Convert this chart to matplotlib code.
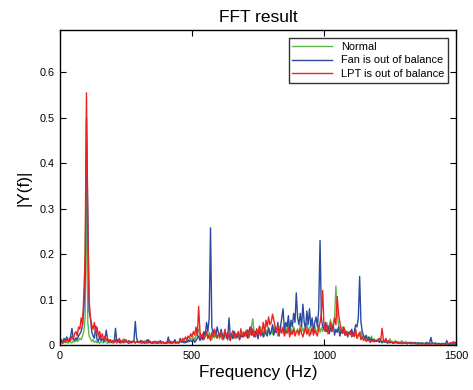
import numpy as np
import matplotlib
matplotlib.use('Agg')
import matplotlib.pyplot as plt

plt.rcParams['font.family'] = ['Liberation Sans', 'DejaVu Sans']

# ── DATA (|Y(f)|, 5 Hz step, 0..1500 Hz) ─────────────────────────────────────
freq = np.arange(0, 1501, 5)

normal = [
    0.003,0.006,0.004,0.008,0.005,0.007,0.004,0.010,0.006,0.005,0.009,0.007,0.012,0.008,0.010,0.015,0.012,0.020,0.030,0.060,
    0.380,0.050,0.020,0.015,0.008,0.012,0.006,0.009,0.005,0.007,0.004,0.008,0.006,0.005,0.010,0.006,0.004,0.007,0.005,0.006,
    0.004,0.006,0.009,0.005,0.012,0.007,0.004,0.006,0.014,0.005,0.008,0.006,0.004,0.007,0.005,0.009,0.006,0.004,0.008,0.006,
    0.005,0.007,0.004,0.006,0.010,0.005,0.004,0.008,0.006,0.005,0.007,0.004,0.006,0.005,0.009,0.004,0.006,0.005,0.007,0.004,
    0.006,0.005,0.008,0.004,0.007,0.005,0.006,0.009,0.004,0.006,0.005,0.007,0.010,0.006,0.008,0.005,0.012,0.007,0.009,0.015,
    0.012,0.018,0.010,0.020,0.030,0.035,0.015,0.022,0.012,0.025,0.018,0.030,0.014,0.028,0.020,0.012,0.024,0.016,0.030,0.018,
    0.022,0.014,0.026,0.018,0.012,0.030,0.020,0.015,0.025,0.010,0.022,0.018,0.028,0.014,0.020,0.026,0.012,0.024,0.018,0.030,
    0.020,0.026,0.016,0.032,0.024,0.040,0.058,0.030,0.022,0.035,0.018,0.028,0.040,0.024,0.030,0.020,0.034,0.026,0.038,0.022,
    0.030,0.024,0.042,0.028,0.036,0.020,0.032,0.044,0.026,0.034,0.022,0.038,0.030,0.046,0.026,0.036,0.024,0.040,0.030,0.028,
    0.036,0.024,0.044,0.030,0.038,0.026,0.034,0.048,0.028,0.040,0.024,0.036,0.030,0.042,0.026,0.034,0.044,0.028,0.038,0.030,
    0.040,0.030,0.050,0.034,0.044,0.056,0.036,0.048,0.060,0.130,0.070,0.044,0.036,0.030,0.040,0.026,0.034,0.022,0.030,0.024,
    0.032,0.020,0.028,0.018,0.026,0.016,0.024,0.020,0.030,0.014,0.022,0.012,0.018,0.010,0.016,0.012,0.020,0.010,0.014,0.008,
    0.012,0.008,0.014,0.010,0.006,0.012,0.008,0.010,0.006,0.009,0.014,0.006,0.008,0.005,0.010,0.006,0.008,0.005,0.007,0.010,
    0.006,0.005,0.008,0.004,0.006,0.005,0.007,0.004,0.006,0.003,0.005,0.004,0.006,0.003,0.005,0.004,0.003,0.005,0.004,0.003,
    0.004,0.003,0.005,0.003,0.004,0.003,0.002,0.004,0.003,0.002,0.003,0.004,0.002,0.003,0.002,0.003,0.002,0.003,0.002,0.003,
    0.002,
]

fan = [
    0.008,0.012,0.006,0.015,0.010,0.018,0.012,0.008,0.020,0.037,0.014,0.010,0.016,0.012,0.020,0.025,0.030,0.045,0.080,0.150,
    0.500,0.300,0.075,0.060,0.030,0.020,0.015,0.042,0.012,0.008,0.020,0.010,0.014,0.008,0.012,0.033,0.010,0.006,0.012,0.008,
    0.010,0.006,0.037,0.008,0.012,0.005,0.010,0.007,0.006,0.012,0.008,0.006,0.010,0.005,0.008,0.006,0.012,0.052,0.015,0.008,
    0.006,0.010,0.005,0.008,0.004,0.007,0.012,0.005,0.009,0.006,0.004,0.008,0.005,0.007,0.004,0.006,0.010,0.005,0.007,0.004,
    0.006,0.004,0.018,0.005,0.008,0.004,0.006,0.012,0.005,0.007,0.004,0.015,0.006,0.009,0.005,0.008,0.006,0.012,0.008,0.010,
    0.008,0.012,0.006,0.010,0.015,0.020,0.010,0.018,0.012,0.030,0.020,0.050,0.030,0.060,0.258,0.040,0.025,0.035,0.020,0.040,
    0.028,0.018,0.035,0.022,0.015,0.030,0.020,0.012,0.060,0.018,0.025,0.014,0.030,0.020,0.016,0.028,0.012,0.022,0.018,0.026,
    0.020,0.032,0.016,0.028,0.040,0.022,0.035,0.018,0.030,0.024,0.014,0.036,0.022,0.028,0.018,0.032,0.026,0.020,0.038,0.024,
    0.030,0.045,0.022,0.036,0.028,0.050,0.020,0.040,0.060,0.080,0.030,0.050,0.040,0.065,0.030,0.055,0.040,0.070,0.050,0.115,
    0.060,0.045,0.070,0.040,0.090,0.050,0.035,0.075,0.045,0.080,0.040,0.060,0.030,0.050,0.062,0.040,0.080,0.230,0.060,0.040,
    0.035,0.050,0.030,0.042,0.025,0.038,0.030,0.045,0.022,0.035,0.028,0.040,0.020,0.032,0.026,0.038,0.022,0.030,0.018,0.028,
    0.024,0.035,0.020,0.030,0.045,0.040,0.060,0.151,0.050,0.030,0.020,0.015,0.022,0.012,0.018,0.010,0.014,0.008,0.012,0.010,
    0.008,0.012,0.006,0.010,0.005,0.008,0.006,0.009,0.004,0.007,0.005,0.008,0.004,0.006,0.005,0.007,0.004,0.006,0.005,0.004,
    0.006,0.004,0.005,0.003,0.006,0.004,0.005,0.003,0.004,0.006,0.003,0.005,0.004,0.003,0.005,0.004,0.003,0.004,0.006,0.003,
    0.005,0.017,0.004,0.003,0.005,0.004,0.003,0.004,0.003,0.002,0.004,0.003,0.002,0.010,0.003,0.002,0.003,0.002,0.003,0.002,
    0.003,
]

lpt = [
    0.005,0.008,0.004,0.010,0.006,0.012,0.008,0.015,0.010,0.020,0.012,0.025,0.030,0.020,0.040,0.035,0.060,0.045,0.110,0.200,
    0.555,0.250,0.100,0.060,0.045,0.035,0.050,0.025,0.040,0.020,0.030,0.015,0.025,0.012,0.020,0.010,0.015,0.008,0.012,0.006,
    0.010,0.006,0.012,0.005,0.008,0.015,0.006,0.010,0.005,0.008,0.012,0.006,0.004,0.009,0.005,0.007,0.010,0.005,0.008,0.006,
    0.008,0.005,0.010,0.006,0.004,0.008,0.005,0.012,0.006,0.004,0.007,0.005,0.009,0.004,0.006,0.008,0.005,0.004,0.007,0.005,
    0.004,0.007,0.005,0.010,0.004,0.006,0.008,0.005,0.004,0.006,0.005,0.012,0.008,0.015,0.010,0.018,0.012,0.020,0.015,0.025,
    0.018,0.030,0.022,0.040,0.020,0.085,0.030,0.015,0.025,0.012,0.020,0.030,0.015,0.022,0.010,0.028,0.018,0.035,0.020,0.015,
    0.025,0.018,0.030,0.012,0.022,0.035,0.015,0.028,0.020,0.010,0.024,0.032,0.016,0.026,0.020,0.030,0.014,0.036,0.022,0.018,
    0.028,0.020,0.034,0.016,0.026,0.040,0.022,0.030,0.018,0.036,0.024,0.042,0.020,0.030,0.050,0.026,0.055,0.040,0.062,0.045,
    0.050,0.068,0.055,0.040,0.030,0.045,0.022,0.035,0.028,0.040,0.020,0.032,0.026,0.038,0.018,0.030,0.024,0.036,0.020,0.028,
    0.032,0.022,0.036,0.026,0.018,0.030,0.040,0.024,0.034,0.020,0.028,0.038,0.022,0.032,0.026,0.020,0.036,0.050,0.070,0.120,
    0.040,0.030,0.045,0.025,0.036,0.050,0.030,0.040,0.060,0.045,0.107,0.070,0.050,0.035,0.028,0.040,0.022,0.030,0.020,0.026,
    0.030,0.018,0.025,0.020,0.035,0.015,0.022,0.028,0.012,0.018,0.010,0.015,0.008,0.012,0.010,0.006,0.009,0.012,0.007,0.010,
    0.008,0.012,0.015,0.010,0.037,0.012,0.008,0.015,0.006,0.010,0.005,0.008,0.006,0.004,0.007,0.005,0.006,0.004,0.005,0.003,
    0.005,0.004,0.006,0.003,0.005,0.004,0.003,0.005,0.004,0.003,0.004,0.002,0.003,0.004,0.002,0.003,0.004,0.002,0.003,0.002,
    0.003,0.002,0.003,0.004,0.002,0.003,0.002,0.003,0.002,0.004,0.003,0.002,0.003,0.002,0.004,0.003,0.006,0.004,0.008,0.005,
    0.006,
]

series_names = ['Normal', 'Fan is out of balance', 'LPT is out of balance']
x_ticks = [0, 500, 1000, 1500]
y_ticks = [0, 0.1, 0.2, 0.3, 0.4, 0.5, 0.6]

# ── FIGURE ───────────────────────────────────────────────────────────────────
fig = plt.figure(figsize=(4.73, 3.90), dpi=100, facecolor='white')
ax = fig.add_axes([0.127, 0.115, 0.837, 0.808])

ax.plot(freq, normal, color='#5cb848', lw=1.0, label=series_names[0])
ax.plot(freq, fan, color='#2a4a9f', lw=1.0, label=series_names[1])
ax.plot(freq, lpt, color='#ee2222', lw=1.0, label=series_names[2])

ax.set_xlim(0, 1500)
ax.set_ylim(0, 0.693)
ax.set_xticks(x_ticks)
ax.set_xticklabels([str(v) for v in x_ticks])
ax.set_yticks(y_ticks)
ax.set_yticklabels(['0'] + [f'{v:.1f}' for v in y_ticks[1:]])
ax.tick_params(direction='in', length=4, width=0.8, top=True, right=True, labelsize=7.8, pad=4)
for s in ax.spines.values():
    s.set_linewidth(1.0)

ax.set_title('FFT result', fontsize=12.5, pad=6)
ax.set_xlabel('Frequency (Hz)', fontsize=12.3, labelpad=3)
ax.set_ylabel('|Y(f)|', fontsize=12.3, labelpad=6)

leg = ax.legend(loc='upper right', fontsize=7.9, frameon=True, fancybox=False,
                edgecolor='black', handlelength=3.6, borderaxespad=0.75,
                labelspacing=0.3, borderpad=0.35)
leg.get_frame().set_linewidth(1.0)

fig.savefig('out.png', dpi=100, facecolor='white')
plt.close(fig)
